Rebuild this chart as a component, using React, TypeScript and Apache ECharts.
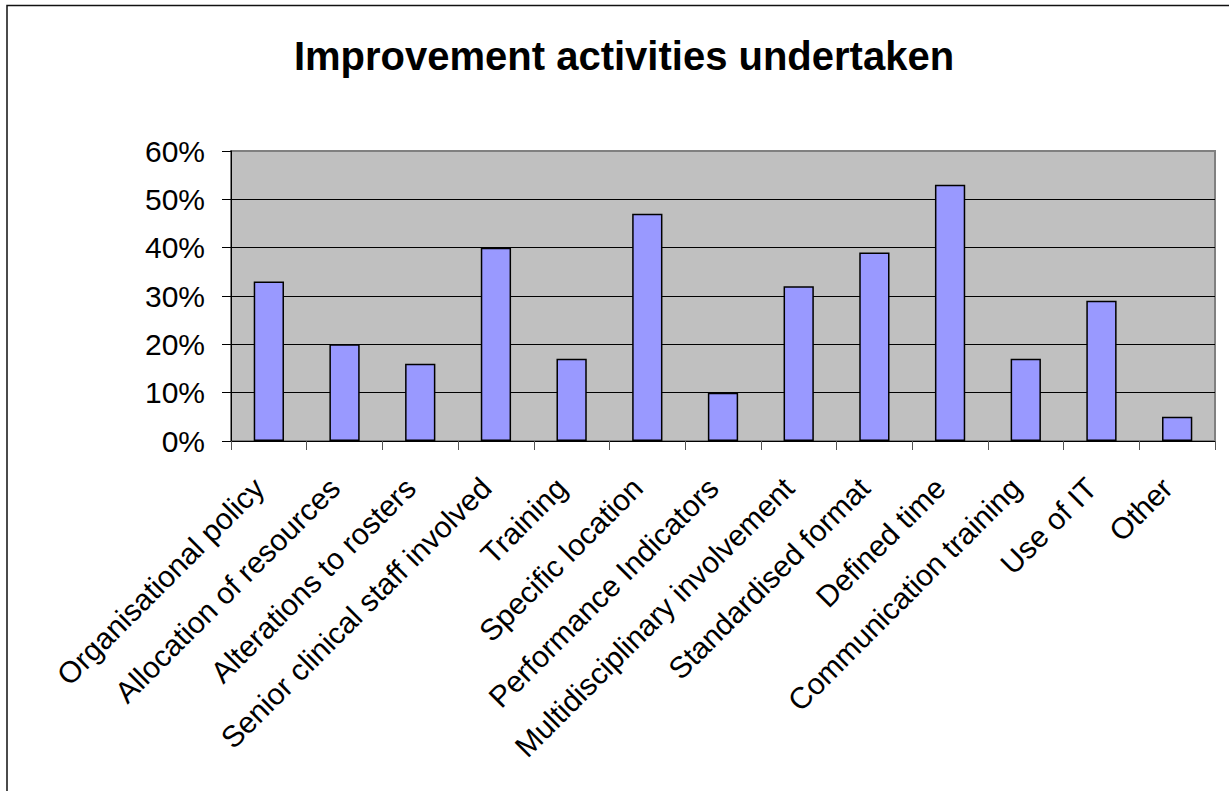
import React, { useEffect, useRef } from "react";
import * as echarts from "echarts";

const categories = [
  "Organisational policy",
  "Allocation of resources",
  "Alterations to rosters",
  "Senior clinical staff involved",
  "Training",
  "Specific location",
  "Performance Indicators",
  "Multidisciplinary involvement",
  "Standardised format",
  "Defined time",
  "Communication training",
  "Use of IT",
  "Other",
];

const values = [33, 20, 16, 40, 17, 47, 10, 32, 39, 53, 17, 29, 5];

const yTicks = { min: 0, max: 60, interval: 10 };

const FONT = "'Liberation Sans', Arial, sans-serif";

export default function App() {
  const ref = useRef<HTMLDivElement>(null);
  useEffect(() => {
    if (!ref.current) return;
    const chart = echarts.init(ref.current, undefined, { renderer: "svg" });
    chart.setOption({
      animation: false,
      backgroundColor: "#ffffff",
      title: {
        text: "Improvement activities undertaken",
        left: 619,
        top: 31,
        textAlign: "center",
        textStyle: {
          fontFamily: FONT,
          fontSize: 40,
          fontWeight: "bold",
          color: "#000",
        },
      },
      graphic: [
        {
          type: "rect",
          shape: { x: 7, y: 5.5, width: 1300, height: 900 },
          style: { fill: "none", stroke: "#111", lineWidth: 1.5 },
          silent: true,
        },
      ],
      grid: {
        left: 231,
        top: 151,
        width: 984,
        height: 290,
        show: true,
        backgroundColor: "#C0C0C0",
        borderColor: "#808080",
        borderWidth: 2,
      },
      xAxis: {
        type: "category",
        data: categories,
        boundaryGap: true,
        axisLine: { show: true, lineStyle: { color: "#000", width: 1 } },
        axisTick: {
          show: true,
          length: 9,
          inside: false,
          lineStyle: { color: "#555" },
        },
        axisLabel: {
          rotate: 45,
          interval: 0,
          margin: 32,
          fontFamily: FONT,
          fontSize: 30,
          color: "#000",
          padding: [0, 14, 0, 0],
        },
        splitLine: { show: false },
      },
      yAxis: {
        type: "value",
        min: yTicks.min,
        max: yTicks.max,
        interval: yTicks.interval,
        axisLine: { show: true, lineStyle: { color: "#000", width: 1 } },
        axisTick: { show: true, length: 9, lineStyle: { color: "#000" } },
        axisLabel: {
          margin: 26,
          fontFamily: FONT,
          fontSize: 30,
          color: "#000",
          formatter: (v: number) => v + "%",
        },
        splitLine: {
          show: true,
          showMaxLine: false,
          lineStyle: { color: "#000", width: 1 },
        },
      },
      series: [
        {
          type: "bar",
          data: values,
          barWidth: "40%",
          itemStyle: {
            color: "#9999FF",
            borderColor: "#000",
            borderWidth: 1.5,
          },
        },
      ],
    });
    return () => chart.dispose();
  }, []);
  return (
    <div
      ref={ref}
      style={{ position: "absolute", left: 0, top: 0, width: 1229, height: 791 }}
    />
  );
}
